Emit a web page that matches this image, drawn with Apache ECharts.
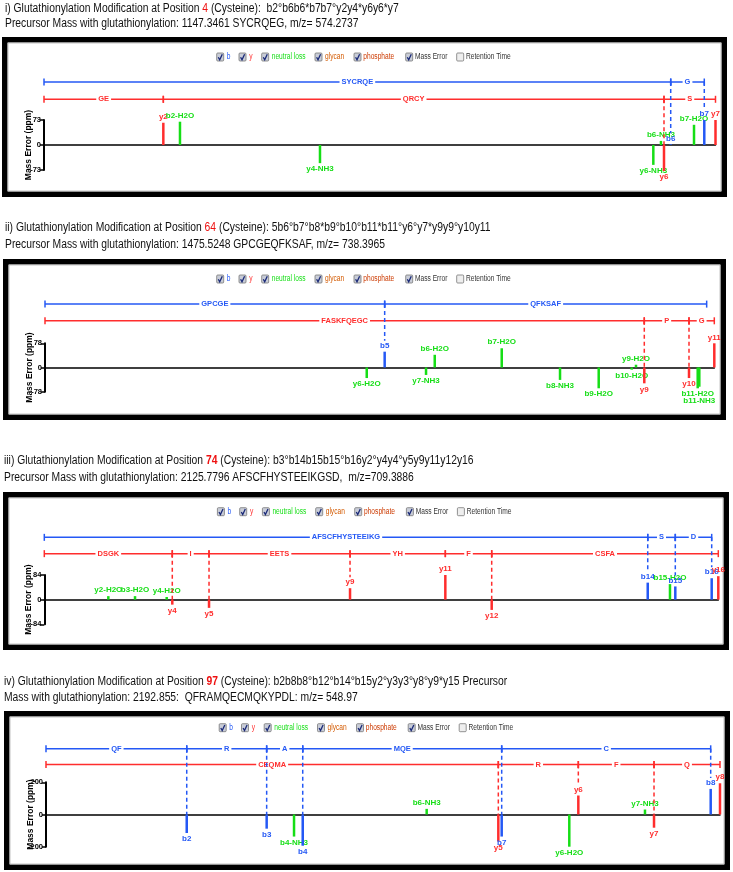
<!DOCTYPE html>
<html><head><meta charset="utf-8">
<script src="https://cdn.jsdelivr.net/npm/echarts@6/dist/echarts.min.js"></script>
<style>html,body{margin:0;padding:0;background:#fff}#c{width:733px;height:872px}</style>
</head><body><div id="c"></div>
<script>
// ---------------- DATA ----------------
// Panel i  (x = position along the peptide track, 0-100 ; y = mass error, ppm)
const p1Range = 73;
const p1BlueBounds = [0, 93.33, 98.33];
const p1BlueRes = ['SYCRQE', 'G'];
const p1RedBounds = [0, 17.77, 92.33, 100];
const p1RedRes = ['GE', 'QRCY', 'S'];
const p1Ions = ['y2', 'b2-H2O', 'y4-NH3', 'y6-NH3', 'b6-NH3', 'y6', 'b6', 'b7-H2O', 'b7', 'y7'];
const p1Pos  = [17.77, 20.25, 41.1, 90.74, 91.88, 92.33, 93.33, 96.8, 98.33, 100];
const p1Err  = [65, 68, -53, -58, 12, -76, 2, 59, 73, 73];
const p1Dashed = ['y6', 'b6', 'b7'];

// Panel ii
const p2Range = 78;
const p2BlueBounds = [0, 50.75, 98.86];
const p2BlueRes = ['GPCGE', 'QFKSAF'];
const p2RedBounds = [0, 89.54, 96.22, 100];
const p2RedRes = ['FASKFQEGC', 'P', 'G'];
const p2Ions = ['y6-H2O', 'b5', 'y7-NH3', 'b6-H2O', 'b7-H2O', 'b8-NH3', 'b9-H2O', 'b10-H2O', 'y9-H2O', 'y9', 'y10', 'b11-H2O', 'b11-NH3', 'y11'];
const p2Pos  = [48.07, 50.75, 56.93, 58.23, 68.24, 76.95, 82.73, 87.66, 88.3, 89.54, 96.22, 97.52, 97.76, 100];
const p2Err  = [-34, 51, -24, 41, 62, -40, -67, -7, 9, -51, -34, -67, -62, 78];
const p2Dashed = ['b5', 'y9', 'y10'];

// Panel iii
const p3Range = 84;
const p3BlueBounds = [0, 89.53, 93.62, 99.02];
const p3BlueRes = ['AFSCFHYSTEEIKG', 'S', 'D'];
const p3RedBounds = [0, 18.99, 24.44, 45.36, 59.5, 66.38, 100];
const p3RedRes = ['DSGK', 'I', 'EETS', 'YH', 'F', 'CSFA'];
const p3Ions = ['y2-H2O', 'b3-H2O', 'y4-H2O', 'y4', 'y5', 'y9', 'y11', 'y12', 'b14', 'b15-H2O', 'b15', 'b16', 'y16'];
const p3Pos  = [9.5, 13.46, 18.16, 18.99, 24.44, 45.36, 59.5, 66.38, 89.53, 92.83, 93.62, 99.02, 100];
const p3Err  = [12, 12, 9, -17, -28, 39, 84, -35, 58, 53, 45, 73, 80];
const p3Dashed = ['y4', 'y5', 'y9', 'y12', 'b14', 'b15', 'b16'];

// Panel iv
const p4Range = 200;
const p4BlueBounds = [0, 20.88, 32.74, 38.09, 67.61, 98.62];
const p4BlueRes = ['QF', 'R', 'A', 'MQE', 'C'];
const p4RedBounds = [0, 67.11, 78.98, 90.21, 100];
const p4RedRes = ['CEQMA', 'R', 'F', 'Q'];
const p4Ions = ['b2', 'b3', 'b4-NH3', 'b4', 'b6-NH3', 'y5', 'b7', 'y6-H2O', 'y6', 'y7-NH3', 'y7', 'b8', 'y8'];
const p4Pos  = [20.88, 32.74, 36.8, 38.09, 56.48, 67.11, 67.61, 77.64, 78.98, 88.87, 90.21, 98.62, 100];
const p4Err  = [-115, -88, -137, -194, 35, -168, -137, -200, 118, 31, -82, 159, 194];
const p4Dashed = ['b2', 'b3', 'b4', 'y5', 'b7', 'y6', 'y7', 'b8'];

// Titles
const titleTexts = [
  ['i) Glutathionylation Modification at Position ', '4', ' (Cysteine):  b2°b6b6*b7b7°y2y4*y6y6*y7',
   'Precursor Mass with glutathionylation: 1147.3461 SYCRQEG, m/z= 574.2737'],
  ['ii) Glutathionylation Modification at Position ', '64', ' (Cysteine): 5b6°b7°b8*b9°b10°b11*b11°y6°y7*y9y9°y10y11',
   'Precursor Mass with glutathionylation: 1475.5248 GPCGEQFKSAF, m/z= 738.3965'],
  ['iii) Glutathionylation Modification at Position ', '74', ' (Cysteine): b3°b14b15b15°b16y2°y4y4°y5y9y11y12y16',
   'Precursor Mass with glutathionylation: 2125.7796 AFSCFHYSTEEIKGSD,  m/z=709.3886'],
  ['iv) Glutathionylation Modification at Position ', '97', ' (Cysteine): b2b8b8°b12°b14°b15y2°y3y3°y8°y9*y15 Precursor',
   'Mass with glutathionylation: 2192.855:  QFRAMQECMQKYPDL: m/z= 548.97']
];
const legendNames = ['b', 'y', 'neutral loss', 'glycan', 'phosphate', 'Mass Error', 'Retention Time'];
const yAxisName = 'Mass Error (ppm)';

// ---------------- LAYOUT ----------------
const FONT = '"Liberation Sans", Arial, Helvetica, sans-serif';
const BLUE = '#2458f5', RED = '#ff2d2d', GREEN = '#16de16';
const TFS = 12, TSX = 0.86;
const L = [
  {box: [2, 37, 727, 197], tx: 5, t1: 8.5, t2: 24, legY: 57, legDX: 0, left: 44, right: 715.5, top: 120, bottom: 170, blueOff: 63, redOff: 45.7, bold: false},
  {box: [3, 259, 726, 420], tx: 5, t1: 227.5, t2: 245, legY: 279, legDX: 0, left: 45, right: 714.3, top: 343.3, bottom: 391.7, blueOff: 63.4, redOff: 46.7, bold: false},
  {box: [3, 492, 729, 650], tx: 4, t1: 460.7, t2: 478, legY: 511.7, legDX: 0.7, left: 44.3, right: 718.3, top: 575, bottom: 624.3, blueOff: 62.3, redOff: 46, bold: true},
  {box: [4, 711, 730, 870], tx: 4, t1: 681.7, t2: 698, legY: 727.7, legDX: 2.5, left: 46, right: 720, top: 782.3, bottom: 846.7, blueOff: 65.7, redOff: 50, bold: true}
];
const labelNudge = [{}, {'b11-NH3': 8}, {}, {}];

const panels = [
  {R: p1Range, bb: p1BlueBounds, br: p1BlueRes, rb: p1RedBounds, rr: p1RedRes, ions: p1Ions, pos: p1Pos, err: p1Err, dashed: p1Dashed},
  {R: p2Range, bb: p2BlueBounds, br: p2BlueRes, rb: p2RedBounds, rr: p2RedRes, ions: p2Ions, pos: p2Pos, err: p2Err, dashed: p2Dashed},
  {R: p3Range, bb: p3BlueBounds, br: p3BlueRes, rb: p3RedBounds, rr: p3RedRes, ions: p3Ions, pos: p3Pos, err: p3Err, dashed: p3Dashed},
  {R: p4Range, bb: p4BlueBounds, br: p4BlueRes, rb: p4RedBounds, rr: p4RedRes, ions: p4Ions, pos: p4Pos, err: p4Err, dashed: p4Dashed}
];

function ionColor(n) {
  if (n.indexOf('-') >= 0) return GREEN;
  return n[0] === 'b' ? BLUE : RED;
}

function seqSeries(gi, bounds, res, color, offKey) {
  const data = res.map((r, i) => [bounds[i], bounds[i + 1], 0]);
  return {
    type: 'custom', xAxisIndex: gi, yAxisIndex: gi, clip: false, silent: true, z: 3,
    encode: {x: [0, 1], y: 2}, data,
    renderItem(params, api) {
      const a = api.coord([api.value(0), 0]), b = api.coord([api.value(1), 0]);
      const y = a[1] - L[gi][offKey];
      const lab = res[params.dataIndex];
      const st = {stroke: color, lineWidth: 1.5};
      return {type: 'group', children: [
        {type: 'line', shape: {x1: a[0], y1: y, x2: b[0], y2: y}, style: st},
        {type: 'line', shape: {x1: a[0], y1: y - 3.5, x2: a[0], y2: y + 3.5}, style: st},
        {type: 'line', shape: {x1: b[0], y1: y - 3.5, x2: b[0], y2: y + 3.5}, style: st},
        {type: 'text', x: (a[0] + b[0]) / 2, y: y, z2: 5, style: {text: lab, fill: color, font: 'bold 7.5px ' + FONT,
          align: 'center', verticalAlign: 'middle', backgroundColor: '#fff', padding: [0, 2]}}
      ]};
    }
  };
}

function ionSeries(gi, P) {
  const data = P.pos.map((p, i) => [p, P.err[i]]);
  return {
    type: 'custom', xAxisIndex: gi, yAxisIndex: gi, clip: false, silent: true, z: 4,
    encode: {x: 0, y: 1}, data,
    renderItem(params, api) {
      const name = P.ions[params.dataIndex];
      const x = api.value(0), v = api.value(1);
      const z0 = api.coord([x, 0]), p = api.coord([x, v]);
      const col = ionColor(name);
      const up = v >= 0;
      const nd = labelNudge[gi][name] || 0;
      const ly = (up ? p[1] - 2 : p[1] + 2) + nd;
      const ch = [];
      if (P.dashed.indexOf(name) >= 0) {
        const ys = z0[1] - (name[0] === 'b' ? L[gi].blueOff : L[gi].redOff);
        const ye = up ? ly - 9 : z0[1];
        ch.push({type: 'line', shape: {x1: z0[0], y1: ys, x2: z0[0], y2: ye},
          style: {stroke: col, lineWidth: 1.5, lineDash: [4, 3]}});
      }
      ch.push({type: 'line', shape: {x1: z0[0], y1: z0[1], x2: p[0], y2: p[1]}, style: {stroke: col, lineWidth: 2.5}});
      ch.push({type: 'text', x: p[0], y: ly, style: {text: name, fill: col, font: 'bold 8px ' + FONT,
        align: 'center', verticalAlign: up ? 'bottom' : 'top'}});
      return {type: 'group', children: ch};
    }
  };
}

const grids = [], xAxes = [], yAxes = [], series = [], graphics = [];
const legendX = [[216.7, 226.7], [239, 249.3], [261.7, 271.7], [315, 325], [354, 363.3], [405.7, 415], [456.7, 466]];
const legendColors = [BLUE, RED, GREEN, '#d35a00', '#cc3a00', '#333', '#333'];
const legendChecked = [true, true, true, true, true, true, false];

panels.forEach((P, gi) => {
  const l = L[gi];
  grids.push({left: l.left, top: l.top, width: l.right - l.left, height: l.bottom - l.top, containLabel: false});
  xAxes.push({gridIndex: gi, type: 'value', min: 0, max: 100,
    axisLine: {onZero: true, lineStyle: {color: '#000', width: 1.5}},
    axisTick: {show: false}, axisLabel: {show: false}, splitLine: {show: false}});
  yAxes.push({gridIndex: gi, type: 'value', min: -P.R, max: P.R, interval: P.R,
    axisLine: {show: true, onZero: false, lineStyle: {color: '#000', width: 2}},
    axisTick: {show: true, length: 4, lineStyle: {color: '#000', width: 1.5}},
    axisLabel: {color: '#000', fontSize: 7.5, fontWeight: 'bold', margin: 3, fontFamily: FONT},
    splitLine: {show: false},
    name: yAxisName, nameLocation: 'middle', nameGap: 11, nameMoveOverlap: false,
    nameTextStyle: {color: '#000', fontSize: 8.5, fontWeight: 'bold', fontFamily: FONT}});
  series.push(seqSeries(gi, P.bb, P.br, BLUE, 'blueOff'));
  series.push(seqSeries(gi, P.rb, P.rr, RED, 'redOff'));
  series.push(ionSeries(gi, P));

  // box
  const b = l.box;
  graphics.push({type: 'rect', z: 1, shape: {x: b[0] + 2.75, y: b[1] + 2.75, width: b[2] - b[0] - 5.5, height: b[3] - b[1] - 5.5},
    style: {fill: 'none', stroke: '#000', lineWidth: 5.5}});
  graphics.push({type: 'rect', z: 1, shape: {x: b[0] + 6, y: b[1] + 6, width: b[2] - b[0] - 12, height: b[3] - b[1] - 12},
    style: {fill: 'none', stroke: '#b5b5b5', lineWidth: 0.8}});

  // titles
  const T = titleTexts[gi];
  const base = {fill: '#111', fontSize: TFS, fontFamily: FONT};
  graphics.push({type: 'text', x: l.tx, y: l.t1, scaleX: TSX, z: 5,
    style: {text: '{a|' + T[0] + '}{r|' + T[1] + '}{a|' + T[2] + '}', verticalAlign: 'middle',
      rich: {a: base, r: {fill: '#ee1111', fontSize: TFS, fontFamily: FONT, fontWeight: l.bold ? 'bold' : 'normal'}}}});
  graphics.push({type: 'text', x: l.tx, y: l.t2, scaleX: TSX, z: 5,
    style: {text: T[3], fill: '#111', font: TFS + 'px ' + FONT, verticalAlign: 'middle'}});

  // legend
  legendNames.forEach((n, k) => {
    const cx = legendX[k][0] + l.legDX, tx = legendX[k][1] + l.legDX, y = l.legY;
    graphics.push({type: 'rect', z: 5, shape: {x: cx, y: y - 4, width: 7, height: 8, r: 1},
      style: {fill: legendChecked[k] ? '#c9cdd8' : '#eeeeee', stroke: '#777', lineWidth: 0.8}});
    if (legendChecked[k]) {
      graphics.push({type: 'polyline', z: 6, shape: {points: [[cx + 1.6, y + 0.3], [cx + 3, y + 2.8], [cx + 5.6, y - 2.8]]},
        style: {stroke: '#1b2a78', lineWidth: 1.3, fill: 'none'}});
    }
    graphics.push({type: 'text', x: tx, y: y, scaleX: 0.78, z: 5,
      style: {text: n, fill: legendColors[k], font: '8.5px ' + FONT, verticalAlign: 'middle'}});
  });
});

const chart = echarts.init(document.getElementById('c'), null, {renderer: 'canvas'});
chart.setOption({
  animation: false,
  backgroundColor: '#fff',
  grid: grids, xAxis: xAxes, yAxis: yAxes, series: series, graphic: graphics
});
</script></body></html>
